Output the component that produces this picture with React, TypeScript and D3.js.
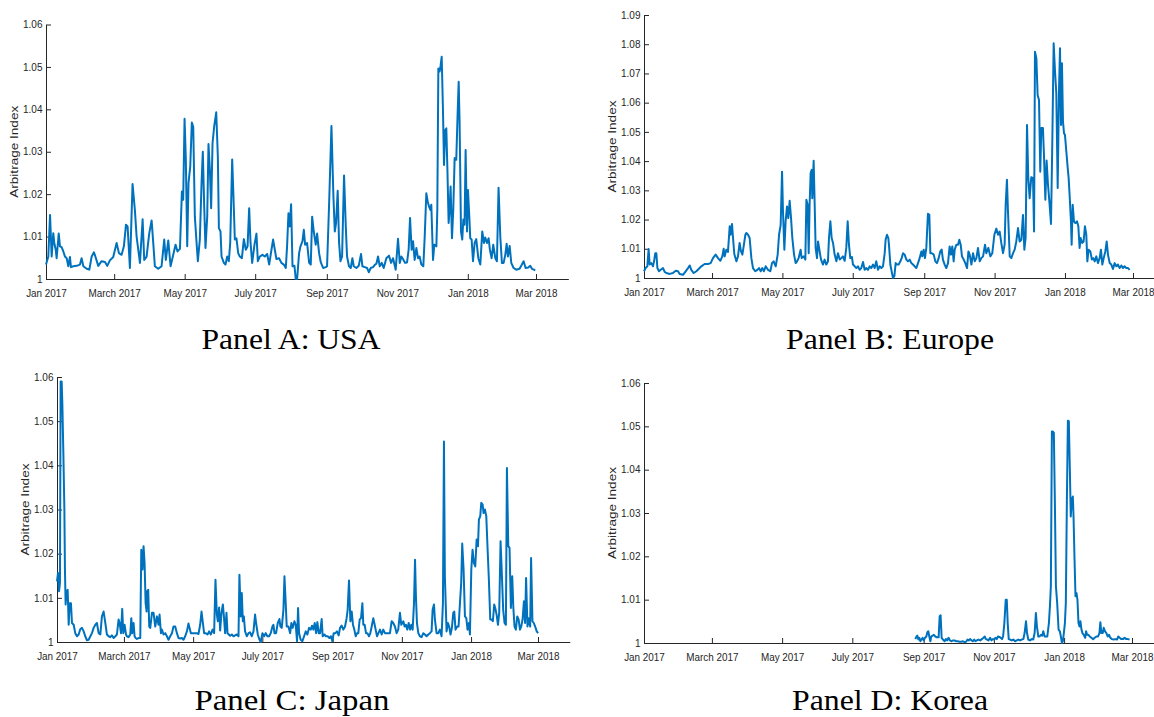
import * as d3 from 'd3';
import { useEffect, useRef } from 'react';

const WIDTH = 1154;
const HEIGHT = 717;

// x axis: every second month; labels spelled as in the source figure
const TICK_DATES = ['2017-01-01', '2017-03-01', '2017-05-01', '2017-07-01', '2017-09-01', '2017-11-01', '2018-01-01', '2018-03-01'];
const TICK_LABELS = ['Jan 2017', 'March 2017', 'May 2017', 'July 2017', 'Sep 2017', 'Nov 2017', 'Jan 2018', 'Mar 2018'];
const SERIES_START = '2017-01-01';
const AXIS_END = '2018-03-29';

const Y_TICKS_6 = [1, 1.01, 1.02, 1.03, 1.04, 1.05, 1.06];
const Y_TICKS_9 = [1, 1.01, 1.02, 1.03, 1.04, 1.05, 1.06, 1.07, 1.08, 1.09];

// [days since 1 Jan 2017, arbitrage index]
const USA: [number, number][] = [
    [0, 1.0034], [2, 1.0053], [3.5, 1.0151], [4.9, 1.0053], [6.3, 1.0108], [7.2, 1.0085], [8.4, 1.0069], [9.2, 1.0049], [11, 1.0107], [12.1, 1.0077],
    [13.5, 1.0075], [15, 1.0065], [16.4, 1.0053], [17.9, 1.0049], [19.3, 1.003], [20.7, 1.0052], [21.6, 1.0028], [23.6, 1.003], [26.5, 1.0031], [29.4, 1.0034],
    [30.8, 1.0049], [32.3, 1.003], [35.2, 1.0024], [37.5, 1.0022], [39.5, 1.0053], [41.5, 1.0063], [43.2, 1.0049], [45.2, 1.0031], [48.1, 1.0042], [51, 1.004],
    [53, 1.0031], [55.3, 1.0044], [58.2, 1.0052], [61.1, 1.0085], [63.1, 1.0061], [65.4, 1.0057], [67.4, 1.0077], [69.2, 1.0128], [70.6, 1.0124], [72.6, 1.0026],
    [74.9, 1.0224], [76.9, 1.0163], [78.4, 1.01], [81.3, 1.0038], [83.6, 1.0141], [85, 1.0045], [87, 1.0052], [89.3, 1.0107], [91.4, 1.0138], [92.8, 1.0085],
    [94.2, 1.003], [97.1, 1.0024], [100, 1.003], [102.3, 1.0093], [103.7, 1.0045], [105.8, 1.0091], [107.8, 1.003], [110.1, 1.0057], [112.1, 1.0081], [113.8, 1.0065],
    [115.9, 1.0071], [117.6, 1.0206], [118.7, 1.0187], [119.9, 1.0378], [121, 1.0281], [122.2, 1.0077], [123.3, 1.0226], [124.8, 1.0265], [126.2, 1.0369], [127.4, 1.0359],
    [128.8, 1.0147], [130.3, 1.0085], [131.4, 1.0042], [133.1, 1.0093], [134.6, 1.0226], [135.7, 1.03], [136.9, 1.0171], [138, 1.0073], [139.5, 1.0147], [140.6, 1.0318],
    [141.8, 1.0257], [142.9, 1.0167], [144.1, 1.032], [145.5, 1.0359], [147.3, 1.0393], [148.7, 1.0289], [149.6, 1.012], [151, 1.0112], [151.9, 1.0053], [153.9, 1.0038],
    [155.3, 1.0034], [156.8, 1.0053], [158.2, 1.0042], [159.4, 1.0085], [161.1, 1.0282], [162.2, 1.0195], [163.4, 1.0093], [164.8, 1.0096], [166.3, 1.0061], [167.7, 1.0053],
    [169.5, 1.0049], [171.2, 1.0094], [172.9, 1.0069], [174.4, 1.0077], [175.8, 1.0167], [177, 1.0085], [178.4, 1.0038], [180.4, 1.0081], [182.1, 1.0107], [183.3, 1.0042],
    [185, 1.0053], [187.3, 1.0057], [189.3, 1.0053], [191.4, 1.0059], [193.1, 1.0034], [195.1, 1.0069], [196.5, 1.0093], [198, 1.0069], [199.4, 1.0047], [201.7, 1.0049],
    [203.7, 1.0038], [205.8, 1.0034], [207.5, 1.0026], [208.6, 1.0077], [209.8, 1.0155], [210.9, 1.0124], [212.1, 1.0176], [213.3, 1.003], [215, 1.0031], [216.1, 1],
    [217.3, 1], [219, 1.0061], [220.2, 1.0077], [221.9, 1.0089], [223.1, 1.0116], [224.2, 1.0081], [225.9, 1.0085], [227.7, 1.0038], [229.1, 1.0034], [230.3, 1.0147],
    [231.7, 1.0112], [233.4, 1.0081], [234.6, 1.0107], [236.3, 1.0061], [237.8, 1.0039], [239.8, 1.0026], [242.1, 1.0028], [243.2, 1.003], [245, 1.0179], [247, 1.0361],
    [248.7, 1.0195], [249.9, 1.0112], [251, 1.0132], [252.4, 1.0208], [253.6, 1.0085], [254.8, 1.0042], [256.2, 1.0053], [257.9, 1.0244], [259.4, 1.0124], [260.5, 1.0053],
    [262.2, 1.003], [263.7, 1.0026], [265.1, 1.0049], [266.3, 1.003], [268.6, 1.0026], [270.6, 1.0031], [272.6, 1.0059], [273.8, 1.003], [275.8, 1.0028], [277.8, 1.0026],
    [279.3, 1.0016], [281, 1.0026], [283, 1.0028], [284.7, 1.0034], [285.9, 1.0036], [287.3, 1.0053], [288.8, 1.003], [290.5, 1.0038], [292.2, 1.0026], [294.5, 1.0049],
    [296.8, 1.0055], [298.6, 1.0038], [300.3, 1.0049], [302.6, 1.0022], [304.6, 1.0095], [306.1, 1.0038], [307.5, 1.0053], [308.9, 1.0047], [310.7, 1.0038], [312.4, 1.0039],
    [313.8, 1.0069], [315, 1.0144], [316.4, 1.0069], [317.6, 1.0089], [319, 1.0045], [320.5, 1.0073], [321.9, 1.0049], [323.3, 1.0053], [324.8, 1.0034], [326.5, 1.003],
    [327.7, 1.01], [329.1, 1.0202], [330.3, 1.0183], [331.4, 1.0171], [332.6, 1.0163], [333.4, 1.0175], [334.9, 1.0045], [336, 1.0081], [337.8, 1.0077], [338.6, 1.0163],
    [339.5, 1.0496], [340.6, 1.0489], [341.5, 1.0504], [342.4, 1.0524], [343.5, 1.0398], [344.4, 1.0269], [345.5, 1.0351], [346.4, 1.0355], [347.3, 1.0263], [348.4, 1.0132],
    [349.3, 1.0167], [350.1, 1.0218], [351.3, 1.0096], [352.4, 1.0163], [353.6, 1.0285], [355, 1.0281], [356.2, 1.0391], [357.1, 1.0465], [357.9, 1.0367], [359.1, 1.0112],
    [360.2, 1.0093], [361.1, 1.014], [362.2, 1.0128], [363.1, 1.0304], [364.3, 1.0112], [365.1, 1.021], [366.3, 1.0147], [367.1, 1.0096], [368.3, 1.0093], [369.5, 1.0042],
    [370.9, 1.0085], [372.3, 1.0094], [374.1, 1.0049], [375.8, 1.0034], [377.5, 1.0112], [379, 1.0085], [380.1, 1.0098], [381.6, 1.0085], [383, 1.0096], [384.1, 1.0069],
    [385.6, 1.0049], [387, 1.0081], [388.8, 1.0049], [390.2, 1.0042], [391.6, 1.0215], [393.1, 1.01], [394.5, 1.0038], [396, 1.0038], [397.4, 1.0057], [398.6, 1.0083],
    [399.7, 1.0053], [401.2, 1.0078], [402.6, 1.0038], [404.6, 1.0026], [406.9, 1.0022], [409.8, 1.0024], [411.8, 1.0034], [413.3, 1.0042], [415, 1.0026], [417.3, 1.0027],
    [419, 1.0031], [420.5, 1.0024], [422.2, 1.0022], [423.3, 1.002],
];

const EUROPE: [number, number][] = [
    [0, 1.0023], [1.4, 1.0034], [2.9, 1.004], [4, 1.0099], [4.9, 1.0046], [6.4, 1.0051], [7.8, 1.004], [8.7, 1.0057], [9.8, 1.0085], [10.7, 1.0085],
    [11.6, 1.0034], [13, 1.0023], [14.5, 1.0028], [16.5, 1.0034], [17.9, 1.0021], [19.4, 1.0017], [22.3, 1.0014], [25.1, 1.0017], [27.5, 1.0025], [29.5, 1.0023],
    [30.9, 1.0014], [33.8, 1.0011], [36.1, 1.0023], [38.2, 1.0034], [39.6, 1.0043], [41, 1.0028], [43.1, 1.0017], [45.4, 1.0023], [47.4, 1.0031], [49.7, 1.004],
    [52.6, 1.0048], [55.5, 1.0048], [57.8, 1.0051], [59.8, 1.0068], [62.1, 1.008], [64.2, 1.0068], [66.2, 1.0059], [67.9, 1.0074], [69.1, 1.01], [69.9, 1.0074],
    [71.4, 1.0097], [72.8, 1.0089], [74.3, 1.0177], [75.1, 1.0148], [76.3, 1.0185], [77.2, 1.0137], [78.3, 1.0082], [80.1, 1.0057], [81.5, 1.0074], [82.9, 1.012],
    [84.1, 1.0091], [85.3, 1.008], [86.7, 1.0116], [87.9, 1.0148], [88.7, 1.0154], [90.2, 1.0148], [91.6, 1.0137], [93.1, 1.0068], [94.5, 1.0034], [96.5, 1.0023],
    [98.3, 1.0028], [99.7, 1.0034], [101.2, 1.0023], [102.6, 1.0034], [104, 1.0023], [105.5, 1.004], [107.5, 1.0028], [109.5, 1.0023], [111, 1.0051], [112.4, 1.0057],
    [114.2, 1.004], [115.9, 1.008], [117.1, 1.0148], [118.5, 1.0182], [119.7, 1.0364], [120.5, 1.0228], [121.7, 1.0097], [122.8, 1.0194], [124, 1.0245], [125.1, 1.0205],
    [126.3, 1.0264], [127.5, 1.0205], [128.6, 1.0137], [130.1, 1.008], [131.5, 1.0051], [132.7, 1.0057], [134.1, 1.0068], [135.8, 1.0097], [136.7, 1.0068], [138.4, 1.0074],
    [139.9, 1.0063], [140.8, 1.0268], [141.9, 1.0251], [142.8, 1.0085], [143.6, 1.0251], [144.5, 1.0359], [145.4, 1.037], [145.9, 1.0273], [147.1, 1.0401], [148, 1.0251],
    [148.8, 1.0103], [150, 1.0068], [150.9, 1.0125], [152.3, 1.0091], [153.5, 1.0063], [155.2, 1.0046], [156.6, 1.0063], [158.1, 1.0046], [159.5, 1.0057], [160.4, 1.0137],
    [161.6, 1.0194], [162.7, 1.0137], [163.9, 1.012], [165.3, 1.008], [166.8, 1.0057], [168.2, 1.0085], [169.7, 1.0063], [171.1, 1.0068], [172.5, 1.0074], [174, 1.0059],
    [175.4, 1.0103], [176.6, 1.0194], [177.7, 1.0114], [178.9, 1.0068], [180.3, 1.0072], [181.2, 1.0046], [182.7, 1.004], [184.1, 1.0034], [185.5, 1.004], [187, 1.0028],
    [188.4, 1.0034], [189.9, 1.0055], [191.3, 1.0028], [192.8, 1.0034], [194.2, 1.0028], [195.7, 1.004], [197.1, 1.0034], [198.6, 1.0046], [200, 1.0034], [201.4, 1.0057],
    [202.9, 1.0028], [204.3, 1.004], [205.8, 1.0034], [207.2, 1.004], [208.7, 1.0085], [209.5, 1.0131], [210.7, 1.0148], [211.8, 1.0137], [212.4, 1.0114], [213.6, 1.0046],
    [214.7, 1.0023], [215.9, 1], [217.1, 1.0006], [218.2, 1.0051], [219.4, 1.0046], [220.8, 1.0046], [222.3, 1.0057], [223.4, 1.0068], [224.6, 1.0085], [226, 1.008],
    [227.5, 1.0063], [228.9, 1.0057], [230.4, 1.0063], [231.8, 1.0051], [233.2, 1.0046], [234.7, 1.004], [236.1, 1.0034], [237.6, 1.0051], [239, 1.0068], [240.5, 1.0091],
    [241.3, 1.0074], [242.5, 1.0097], [243.6, 1.0068], [244.8, 1.0103], [246.2, 1.022], [247.4, 1.0216], [248.3, 1.0085], [249.7, 1.0085], [251.2, 1.008], [252.6, 1.0057],
    [254, 1.0051], [255.5, 1.0068], [256.9, 1.0091], [258.1, 1.0097], [259.2, 1.0063], [260.7, 1.0046], [262.1, 1.0034], [263.6, 1.0051], [265, 1.0108], [266.2, 1.008],
    [267.3, 1.0108], [268.5, 1.0057], [269.4, 1.0097], [270.8, 1.0114], [272.3, 1.0114], [273.4, 1.0131], [274.6, 1.0114], [275.7, 1.0074], [277.2, 1.0063], [278.6, 1.0051],
    [280.1, 1.0034], [281.3, 1.0091], [282.4, 1.008], [283.9, 1.0046], [285.3, 1.0085], [286.8, 1.0057], [288.2, 1.0068], [289.6, 1.0103], [291.1, 1.0057], [292.5, 1.0068],
    [294, 1.0074], [295.7, 1.0114], [296.8, 1.0085], [298.6, 1.0103], [300.3, 1.0074], [302, 1.0085], [303.8, 1.0148], [305.5, 1.0169], [307, 1.0148], [308.4, 1.0159],
    [309.8, 1.012], [311.3, 1.0085], [312.7, 1.0114], [313.6, 1.0251], [314.7, 1.0336], [315.6, 1.0228], [317.1, 1.0074], [318.5, 1.0068], [320, 1.0085], [321.4, 1.0097],
    [322.8, 1.0125], [324.3, 1.0171], [325.7, 1.0125], [327.2, 1.0131], [328.6, 1.0216], [329.8, 1.0097], [330.9, 1.0137], [332.1, 1.0524], [333.2, 1.0342], [334.4, 1.0273],
    [335.8, 1.0345], [337.3, 1.0342], [338.2, 1.0159], [339, 1.0774], [340.2, 1.0752], [341.3, 1.0626], [342.5, 1.0609], [343.6, 1.0364], [344.5, 1.0513], [345.9, 1.0513],
    [346.8, 1.0421], [348, 1.0268], [349.1, 1.0402], [350.3, 1.0319], [351.7, 1.0251], [352.9, 1.0185], [354, 1.0456], [355.2, 1.0803], [356.4, 1.0706], [357.5, 1.0632],
    [358.7, 1.0308], [359.8, 1.0636], [360.7, 1.0786], [361.6, 1.0524], [362.4, 1.0735], [363.3, 1.0535], [364.2, 1.0495], [365, 1.049], [366.2, 1.0433], [367.4, 1.0376],
    [368.2, 1.0342], [369.1, 1.0279], [370.2, 1.0194], [370.8, 1.0114], [371.7, 1.0251], [372.8, 1.0194], [374, 1.0188], [375.4, 1.0194], [376.6, 1.0177], [377.7, 1.0103],
    [378.6, 1.0137], [380, 1.012], [381.2, 1.0125], [382.3, 1.0177], [383.5, 1.0148], [384.4, 1.0057], [385.5, 1.0097], [387, 1.0091], [388.4, 1.0063], [389.6, 1.0068],
    [390.8, 1.0057], [392.2, 1.0074], [393.6, 1.0051], [395.1, 1.0068], [396.2, 1.0097], [397.4, 1.0046], [398.6, 1.0068], [400, 1.0091], [401.2, 1.0125], [402.3, 1.008],
    [403.8, 1.0051], [405.2, 1.0046], [406.6, 1.0031], [408.1, 1.0051], [409.5, 1.004], [411, 1.0046], [412.4, 1.0034], [413.9, 1.0043], [415.3, 1.0034], [416.8, 1.004],
    [418.2, 1.0034], [419.7, 1.0034], [421.1, 1.0028],
];

const JAPAN: [number, number][] = [
    [0, 1.0137], [0.9, 1.0156], [1.8, 1.0115], [2.6, 1.0134], [3.2, 1.059], [4.1, 1.059], [4.7, 1.0541], [5.6, 1.0428], [6.5, 1.03], [7, 1.0164],
    [7.6, 1.0085], [8.5, 1.0115], [9.4, 1.0118], [10.3, 1.0039], [11.2, 1.0088], [12.3, 1.0088], [13.2, 1.0043], [14.7, 1.0039], [16.1, 1.002], [17.6, 1.0013],
    [19.1, 1.0017], [20.5, 1.0029], [22, 1.0032], [23.5, 1.0024], [24.9, 1.0013], [26.4, 1.0004], [27.9, 1.0005], [29.4, 1.0013], [30.8, 1.002], [32.3, 1.0032],
    [33.8, 1.0039], [35.2, 1.0043], [36.7, 1.002], [38.2, 1.0017], [39.6, 1.0058], [41.1, 1.0069], [42.6, 1.0043], [44, 1.0017], [45.5, 1.0013], [47, 1.0011],
    [48.4, 1.0015], [49.9, 1.0009], [51.4, 1.0013], [52.8, 1.0017], [54.3, 1.0051], [55.2, 1.0043], [56.4, 1.002], [57.5, 1.0075], [58.4, 1.002], [59.6, 1.0039],
    [60.8, 1.0017], [61.6, 1.0013], [63.1, 1.0011], [64.6, 1.0017], [65.5, 1.0054], [66.3, 1.002], [67.5, 1.0043], [68.4, 1.0013], [69.3, 1.0009], [70.4, 1.0007],
    [71.9, 1.0009], [73.4, 1.0009], [74.3, 1.0209], [75.4, 1.0164], [76.3, 1.0217], [77.2, 1.0179], [78.1, 1.0088], [79, 1.0069], [79.5, 1.0115], [80.4, 1.0118],
    [81.3, 1.0035], [82.2, 1.0032], [83.7, 1.0066], [85.1, 1.0066], [86.6, 1.0035], [88.1, 1.0058], [89.5, 1.0039], [90.4, 1.0062], [91.6, 1.002], [92.5, 1.0028],
    [93.9, 1.0017], [95.4, 1.002], [96.9, 1.0013], [98.3, 1.0005], [99.8, 1.0013], [101.3, 1.002], [102.7, 1.0035], [104.2, 1.0035], [105.7, 1.002], [107.1, 1.0009],
    [108.6, 1.0008], [110.1, 1.0009], [111.5, 1.0005], [113, 1.0013], [114.5, 1.0024], [115.9, 1.0042], [116.8, 1.0032], [118, 1.002], [119.5, 1.002], [120.3, 1.002],
    [121.8, 1.002], [123.3, 1.002], [124.7, 1.0018], [126.2, 1.0039], [127.4, 1.0069], [128.6, 1.0043], [129.7, 1.002], [131.2, 1.002], [132.7, 1.0017], [134.1, 1.0024],
    [135.6, 1.0017], [137.1, 1.0028], [138.5, 1.002], [139.7, 1.0141], [140.9, 1.0062], [141.8, 1.0047], [142.9, 1.0078], [143.8, 1.0026], [145, 1.0066], [146.2, 1.0085],
    [147, 1.0062], [148.2, 1.002], [149.4, 1.0066], [150.3, 1.002], [151.5, 1.0017], [152.6, 1.0014], [154.1, 1.0017], [155.6, 1.0013], [157, 1.0015], [158.5, 1.0017],
    [160, 1.0013], [160.8, 1.0152], [162, 1.0058], [162.9, 1.0111], [163.8, 1.0047], [164.7, 1.0058], [165.8, 1.0024], [167.3, 1.0013], [168.8, 1.002], [170.2, 1.0022],
    [171.7, 1.0013], [173.2, 1.0024], [174.6, 1.0062], [175.5, 1.0043], [177, 1.0017], [178.5, 1.0005], [179.6, 1], [181.1, 1.002], [182.6, 1.0013], [184, 1.002],
    [185.5, 1.0013], [187, 1.0013], [188.4, 1.002], [189.9, 1.0035], [190.8, 1.0039], [191.7, 1.002], [193.1, 1.002], [194.6, 1.0043], [196.1, 1.0052], [196.9, 1.0035],
    [198.1, 1.0032], [199.6, 1.0073], [200.5, 1.0149], [201.6, 1.0088], [202.5, 1.0035], [204, 1.0035], [205.5, 1.002], [206.6, 1.0043], [207.8, 1.0032], [209.3, 1.0047],
    [210.4, 1.0039], [211.6, 1.0002], [212.5, 1.0077], [213.4, 1.002], [214.8, 1.0005], [216.3, 1.0002], [217.8, 1.0013], [219.3, 1.0024], [220.7, 1.0017], [222.2, 1.0032],
    [223.7, 1.0028], [224.8, 1.0037], [226, 1.0028], [227.2, 1.0043], [228.4, 1.002], [229.5, 1.0045], [230.7, 1.002], [231.9, 1.002], [233.3, 1.0052], [234.2, 1.0013],
    [235.7, 1.0017], [237.1, 1.0013], [238.6, 1.0013], [240.1, 1.0009], [241.5, 1.0013], [242.7, 1.0002], [243.9, 1.002], [245.4, 1.002], [246.8, 1.0024], [248.3, 1.0015],
    [249.5, 1.0032], [250.9, 1.0037], [252.4, 1.0028], [253.9, 1.0035], [255.3, 1.0054], [256.2, 1.0073], [257.4, 1.0139], [258.6, 1.0047], [259.8, 1.0069], [260.9, 1.0039],
    [262.1, 1.0028], [263.3, 1.0013], [264.5, 1.002], [265.6, 1.002], [266.8, 1.0051], [268, 1.0054], [269.2, 1.0088], [270, 1.0039], [271.2, 1.0039], [272.4, 1.002],
    [273.6, 1.002], [275, 1.0013], [276.2, 1.002], [277.4, 1.0035], [278.8, 1.0054], [279.7, 1.0043], [280.9, 1.0028], [282.1, 1.0013], [283.3, 1.002], [284.7, 1.0028],
    [286.2, 1.0017], [287.6, 1.0028], [289.1, 1.002], [290.6, 1.002], [292, 1.002], [293.5, 1.002], [295, 1.0047], [296.4, 1.0043], [297.9, 1.0035], [299.4, 1.002],
    [300.8, 1.0028], [302.3, 1.0066], [303.5, 1.0039], [304.4, 1.0043], [305.3, 1.0047], [306.4, 1.0035], [307.6, 1.0039], [308.8, 1.0028], [310, 1.0043], [311.2, 1.0028],
    [312.3, 1.0039], [313.5, 1.0028], [314.7, 1.0088], [315.6, 1.0186], [316.4, 1.0103], [317.3, 1.0043], [318.5, 1.002], [319.9, 1.0013], [321.4, 1.0011], [322.9, 1.002],
    [324.3, 1.0017], [325.8, 1.0013], [327.3, 1.0017], [328.7, 1.002], [330.2, 1.0024], [331.1, 1.0073], [332.3, 1.0085], [333.1, 1.0051], [334.6, 1.002], [336.1, 1.002],
    [337.5, 1.0028], [339, 1.0013], [340.2, 1.0088], [341.1, 1.0454], [341.9, 1.0149], [343.4, 1.0024], [344.6, 1.0043], [345.7, 1.0035], [346.9, 1.0017], [348.1, 1.0032],
    [349.3, 1.0066], [350.2, 1.0069], [351.3, 1.0028], [352.8, 1.0035], [354, 1.0035], [355.2, 1.0088], [356.3, 1.0134], [357.2, 1.0223], [358.4, 1.0164], [359.6, 1.0058],
    [360.8, 1.0054], [361.9, 1.0028], [363.1, 1.0043], [364, 1.0017], [365.2, 1.0164], [366.3, 1.0209], [367.5, 1.0179], [368.7, 1.0171], [369.9, 1.0232], [371.1, 1.0217],
    [371.9, 1.0277], [373.1, 1.0285], [374, 1.0315], [375.2, 1.0311], [376, 1.0292], [377.2, 1.03], [378.4, 1.0285], [379.6, 1.0209], [380.7, 1.0141], [381.9, 1.0051],
    [383.1, 1.0051], [384.2, 1.0047], [385.4, 1.0085], [386.3, 1.0077], [387.5, 1.0062], [388.7, 1.0039], [389.8, 1.0066], [391, 1.0228], [392.2, 1.0149], [393.3, 1.0073],
    [394.5, 1.0043], [395.7, 1.0039], [396.6, 1.0394], [397.8, 1.0217], [398.9, 1.0213], [400.1, 1.0077], [401.3, 1.0149], [402.2, 1.0081], [403.3, 1.0035], [404.5, 1.0028],
    [405.7, 1.0058], [406.9, 1.0051], [408.1, 1.0028], [409.2, 1.0035], [410.4, 1.0051], [411.6, 1.0092], [412.6, 1.0043], [413.5, 1.0145], [414.7, 1.0035], [415.9, 1.0054],
    [417.1, 1.0035], [417.9, 1.019], [419.1, 1.0047], [420.3, 1.0043], [421.5, 1.0035], [422.9, 1.0024], [424.1, 1.002],
];

const KOREA: [number, number][] = [
    [235.8, 1.0009], [236.7, 1.0015], [237.5, 1.0017], [238.4, 1.0008], [239.2, 1.0012], [240.1, 1.0004], [241, 1.0008], [242.1, 1.0012], [243, 1.0006], [244.2, 1.0012],
    [245.3, 1.0015], [246.2, 1.0025], [247, 1.0027], [247.9, 1.0015], [248.8, 1.0004], [249.6, 1.0015], [250.8, 1.0017], [251.9, 1.0019], [253.1, 1.0015], [254.5, 1.0013],
    [256, 1.0013], [256.9, 1.0062], [257.7, 1.0064], [258.6, 1.0012], [259.7, 1.0008], [261.2, 1.0004], [262.3, 1.0009], [263.5, 1.0006], [264.6, 1.0012], [265.8, 1.0006],
    [267, 1.0004], [268.4, 1.0006], [269.8, 1.0006], [271.3, 1.0004], [272.7, 1.0004], [274.2, 1.0003], [275.6, 1.0003], [277.1, 1.0004], [278.5, 1.0002], [279.9, 1.0003],
    [281.1, 1.0008], [282.2, 1.0006], [283.4, 1.0009], [284.6, 1.0006], [285.7, 1.0004], [286.9, 1.0008], [288, 1.0004], [289.2, 1.0006], [290.6, 1.0008], [292.1, 1.0006],
    [293.5, 1.0009], [295, 1.0012], [296.1, 1.0015], [297, 1.0009], [298.1, 1.0008], [299.3, 1.0006], [300.7, 1.0012], [301.9, 1.0006], [303, 1.0009], [304.2, 1.0008],
    [305.3, 1.0012], [306.5, 1.0009], [307.6, 1.0015], [308.8, 1.0014], [310, 1.0012], [311.1, 1.0009], [312, 1.0015], [313.1, 1.0046], [314.3, 1.01], [315.2, 1.01],
    [316, 1.0046], [316.9, 1.0009], [318, 1.0008], [319.5, 1.0006], [320.9, 1.0008], [322.4, 1.0004], [323.8, 1.0006], [325.3, 1.0008], [326.7, 1.0006], [328.1, 1.0008],
    [329.6, 1.0009], [330.7, 1.0023], [331.9, 1.005], [332.8, 1.0023], [333.9, 1.0008], [335.4, 1.0006], [336.8, 1.0009], [338.2, 1.0008], [339.4, 1.0023], [340.5, 1.0069],
    [341.4, 1.0038], [342.6, 1.0015], [343.7, 1.0015], [344.9, 1.0019], [346, 1.0017], [346.9, 1.0027], [348.1, 1.0015], [348.9, 1.0015], [350.4, 1.0015], [351.8, 1.0046],
    [352.7, 1.0085], [353.5, 1.0131], [354.4, 1.0488], [355.3, 1.0488], [356.1, 1.0485], [357, 1.0323], [357.9, 1.0131], [359, 1.0092], [360.2, 1.0031], [361.3, 1.0027],
    [362.2, 1.0015], [363.1, 1], [363.9, 1.0004], [364.8, 1.0023], [365.7, 1.0046], [366.5, 1.0092], [367.4, 1.0323], [368.3, 1.0513], [369.1, 1.0512], [370, 1.04],
    [370.8, 1.0292], [371.7, 1.0331], [372.6, 1.0338], [373.2, 1.0292], [374, 1.02], [374.9, 1.0108], [375.8, 1.0115], [376.6, 1.01], [377.5, 1.0046], [378.4, 1.0038],
    [379.2, 1.005], [380.1, 1.0031], [380.9, 1.0023], [382.1, 1.0019], [383.3, 1.0012], [384.1, 1.0027], [385, 1.0019], [386.1, 1.0019], [387.3, 1.0015], [388.7, 1.0012],
    [390.2, 1.0009], [391.6, 1.0012], [393.1, 1.0015], [394.5, 1.0015], [395.7, 1.0023], [396.5, 1.0048], [397.4, 1.0023], [398.6, 1.0023], [399.4, 1.0035], [400.6, 1.0027],
    [401.7, 1.0023], [402.9, 1.0015], [404, 1.0019], [405.2, 1.0012], [406.6, 1.0009], [408.1, 1.0008], [409.5, 1.0009], [411, 1.0008], [412.1, 1.0015], [413.3, 1.0012],
    [414.7, 1.0009], [416.2, 1.0009], [417.6, 1.0012], [419, 1.0009], [420.5, 1.0009], [421.9, 1.0008],
];

// where each small-multiple sits on the page
const PANELS = [
    { title: 'Panel A: USA', series: USA, yTicks: Y_TICKS_6, x0: 46, xMar18: 536, yTop: 24.5, yBottom: 279, titleX: 291, titleY: 349, titleWidth: 179 },
    { title: 'Panel B: Europe', series: EUROPE, yTicks: Y_TICKS_9, x0: 644, xMar18: 1133, yTop: 15, yBottom: 278, titleX: 890, titleY: 349, titleWidth: 208 },
    { title: 'Panel C: Japan', series: JAPAN, yTicks: Y_TICKS_6, x0: 57, xMar18: 538, yTop: 377, yBottom: 642, titleX: 292, titleY: 710, titleWidth: 195 },
    { title: 'Panel D: Korea', series: KOREA, yTicks: Y_TICKS_6, x0: 644, xMar18: 1132, yTop: 383, yBottom: 643, titleX: 890, titleY: 710, titleWidth: 196 },
];

const INK = '#262626';
const LINE_BLUE = '#0072BD';
const SANS = "'Liberation Sans', Arial, Helvetica, sans-serif";
const SERIF = "'Liberation Serif', 'Times New Roman', serif";

export default function App() {
    const svgRef = useRef<SVGSVGElement | null>(null);

    useEffect(() => {
        if (!svgRef.current) {
            return;
        }
        const svg = d3.select(svgRef.current);
        svg.selectAll('*').remove();

        const parse = d3.utcParse('%Y-%m-%d');
        const start = parse(SERIES_START) as Date;
        const axisEnd = parse(AXIS_END) as Date;
        const tickDates = TICK_DATES.map((s) => parse(s) as Date);
        const mar18 = tickDates[tickDates.length - 1];
        const dayToDate = (d: number) => new Date(start.getTime() + d * 86400000);

        PANELS.forEach((p) => {
            // place Jan 2017 and Mar 2018 where the figure has them, then run the axis on to its end date
            const xRef = d3.scaleUtc().domain([start, mar18]).range([p.x0, p.xMar18]);
            const x = d3.scaleUtc().domain([start, axisEnd]).range([p.x0, xRef(axisEnd)]);
            const yMax = p.yTicks[p.yTicks.length - 1];
            const y = d3.scaleLinear().domain([1, yMax]).range([p.yBottom, p.yTop]);

            const g = svg.append('g');

            const xAxis = g
                .append('g')
                .attr('transform', `translate(0,${p.yBottom})`)
                .call(
                    d3
                        .axisBottom(x)
                        .tickValues(tickDates)
                        .tickFormat((_, i) => TICK_LABELS[i])
                        .tickSizeInner(-5)
                        .tickSizeOuter(0)
                        .tickPadding(10),
                );
            xAxis.attr('color', INK).attr('font-family', SANS);
            xAxis.selectAll('text').attr('font-size', 11).attr('transform', 'scale(0.9,1)').attr('fill', INK);

            const yAxis = g
                .append('g')
                .attr('transform', `translate(${p.x0},0)`)
                .call(
                    d3
                        .axisLeft(y)
                        .tickValues(p.yTicks)
                        .tickFormat((d) => (Number(d) === 1 ? '1' : d3.format('.2f')(Number(d))))
                        .tickSizeInner(-5)
                        .tickSizeOuter(0)
                        .tickPadding(3.5),
                );
            yAxis.attr('color', INK).attr('font-family', SANS);
            yAxis.selectAll('text').attr('font-size', 10).attr('fill', INK);

            g.append('text')
                .attr('transform', `translate(${p.x0 - 32},${(p.yTop + p.yBottom) / 2}) rotate(-90)`)
                .attr('text-anchor', 'middle')
                .attr('dominant-baseline', 'central')
                .attr('font-family', SANS)
                .attr('font-size', 10.5)
                .attr('textLength', 92)
                .attr('lengthAdjust', 'spacingAndGlyphs')
                .attr('fill', INK)
                .text('Arbitrage Index');

            const line = d3
                .line<[number, number]>()
                .x((d) => x(dayToDate(d[0])))
                .y((d) => y(d[1]));

            g.append('path')
                .datum(p.series)
                .attr('fill', 'none')
                .attr('stroke', LINE_BLUE)
                .attr('stroke-width', 2)
                .attr('stroke-linejoin', 'round')
                .attr('d', line);

            svg.append('text')
                .attr('x', p.titleX)
                .attr('y', p.titleY)
                .attr('text-anchor', 'middle')
                .attr('font-family', SERIF)
                .attr('font-size', 30)
                .attr('textLength', p.titleWidth)
                .attr('lengthAdjust', 'spacingAndGlyphs')
                .attr('fill', '#000')
                .text(p.title);
        });
    }, []);

    return (
        <svg
            ref={svgRef}
            width={WIDTH}
            height={HEIGHT}
            style={{ position: 'absolute', left: 0, top: 0, display: 'block', background: '#fff' }}
        />
    );
}
